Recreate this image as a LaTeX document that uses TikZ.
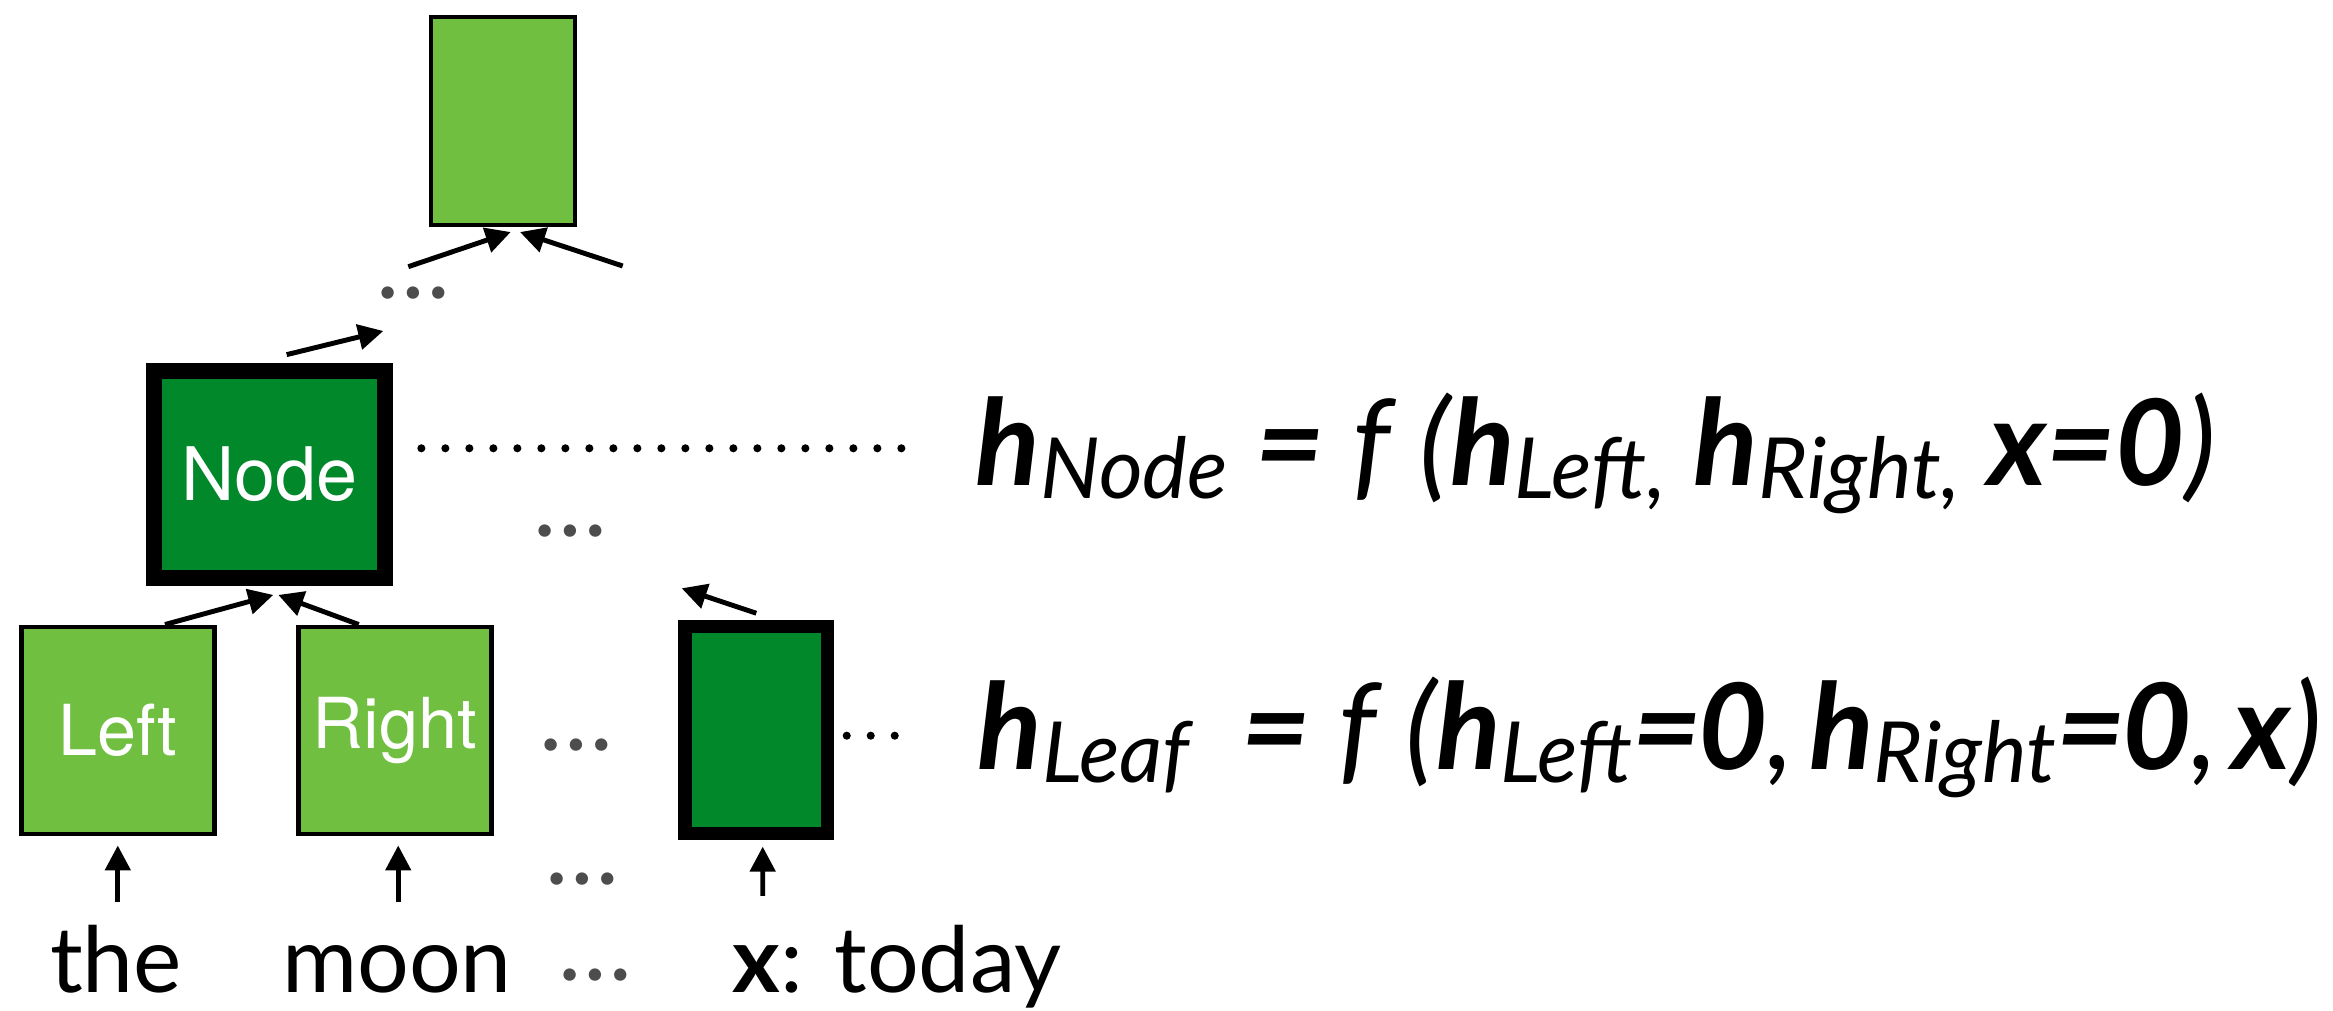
\documentclass[tikz,border=0pt]{standalone}
\usepackage{fontspec}
\setmainfont{Lato}
\newfontfamily\boxfont{TeX Gyre Heros}
\usetikzlibrary{arrows.meta,positioning}
\definecolor{treeLightGreen}{RGB}{112,191,65}
\definecolor{treeDarkGreen}{RGB}{0,136,43}
\definecolor{treeGray}{RGB}{77,77,77}
\newcommand{\hvec}{\textbf{\textit{h}}}
\newcommand{\sbs}[1]{\raisebox{-1.3mm}{\fontsize{24}{24}\selectfont #1}}

\begin{document}
\begin{tikzpicture}[
  cell/.style={
    draw,
    fill=treeLightGreen,
    line width=1.4pt,
    minimum width=1.93cm,
    minimum height=2.07cm,
    inner sep=0pt,
    text=white,
    font=\boxfont\fontsize{20}{20}\selectfont
  },
  hotcell/.style={
    draw,
    fill=treeDarkGreen,
    line width=3.8pt,
    minimum width=1.427cm,
    minimum height=2.067cm,
    inner sep=0pt,
    text=white,
    font=\boxfont\fontsize{21}{21}\selectfont
  },
  word/.style={anchor=base,inner sep=0pt,text height=0.7cm,text depth=0.12cm,font=\fontsize{26}{26}\selectfont},
  dots/.style={inner sep=0pt,text=treeGray,font=\fontsize{28}{28}\selectfont},
  eqn/.style={anchor=base west,inner sep=0pt,font=\fontsize{34}{34}\selectfont\itshape},
  arrow/.style={-{Triangle[length=2.5mm,width=2.5mm]},line width=1.4pt},
  dotline/.style={line width=2.3pt,line cap=round,dash pattern=on 0pt off 2.4mm}
]
  \useasboundingbox (0,0) rectangle (23.33,10.11);
  \node[cell] (left) at (1.178,2.805) {Left};
  \node[cell,right=0.79cm of left] (right) {Right};
  \node[hotcell] (leaf) at (7.563,2.81) {};
  \node[hotcell,line width=4.55pt,minimum width=2.307cm,minimum height=2.073cm] (parent) at (2.693,5.367) {Node};
  \node[cell,line width=1.15pt,minimum width=1.434cm,minimum height=2.083cm] (root) at (5.03,8.898) {};
  \node[word] (the) at (1.16,0.18) {the};
  \node[word] (moon) at (3.97,0.18) {moon};
  \node[word,anchor=base west] (today) at (7.32,0.18) {\textbf{x}: today};
  \node[dots] (worddots) at (5.95,0.36) {…};
  \node[dots] (lowdots) at (5.82,1.32) {…};
  \node[dots] (rowdots) at (5.76,2.66) {…};
  \node[dots] (middots) at (5.70,4.80) {…};
  \node[dots] (topdots) at (4.133,7.183) {…};
  \node[eqn] (eqnode) at (9.75,5.25) {\hvec\sbs{Node} \textbf{=} f (\hvec\sbs{Left,} \hvec\sbs{Right,} \textbf{x=0})};
  \node[eqn] (eqleaf) at (9.77,2.41) {\hvec\sbs{Leaf}\hspace{0.2em} \textbf{=} f (\hvec\sbs{Left}\textbf{=\kern-0.03em0},\hspace{0.12em}\hvec\sbs{Right}\textbf{=\kern-0.03em0},\hspace{0.12em}\textbf{x})};
  \coordinate (leafup) at (6.817,4.227);
  \coordinate (parentup) at (3.833,6.80);
  \coordinate (rootinl) at (4.083,7.443);
  \coordinate (rootinr) at (6.227,7.45);
  \coordinate (todayup) at (7.627,1.15);
  \draw[arrow] ([yshift=2mm]the.north -| left.south) -- ([yshift=-0.9mm]left.south);
  \draw[arrow] ([xshift=0.35mm,yshift=2mm]moon.north -| right.south) -- ([xshift=0.35mm,yshift=-0.9mm]right.south);
  \draw[arrow] (todayup) -- ([xshift=0.64mm,yshift=-0.66mm]leaf.south);
  \draw[arrow] ([xshift=4.72mm]left.north) -- ([xshift=0.4mm,yshift=-0.9mm]parent.south);
  \draw[arrow] ([xshift=-3.6mm]right.north) -- ([xshift=0.9mm,yshift=-0.9mm]parent.south);
  \draw[arrow] ([yshift=0.67mm]leaf.north) -- (leafup);
  \draw[arrow] ([xshift=1.74mm,yshift=0.8mm]parent.north) -- (parentup);
  \draw[arrow] (rootinl) -- ([xshift=0.77mm,yshift=-0.47mm]root.south);
  \draw[arrow] (rootinr) -- ([xshift=1.7mm,yshift=-0.47mm]root.south);
  \draw[dotline] ([xshift=2.87mm,yshift=2.6mm]parent.east) -- ([xshift=-5.6mm,yshift=3.77mm]eqnode.base west);
  \draw[dotline] ([xshift=1.24mm,yshift=-0.57mm]leaf.east) -- ([xshift=-6.3mm,yshift=3.43mm]eqleaf.base west);
\end{tikzpicture}
\end{document}
